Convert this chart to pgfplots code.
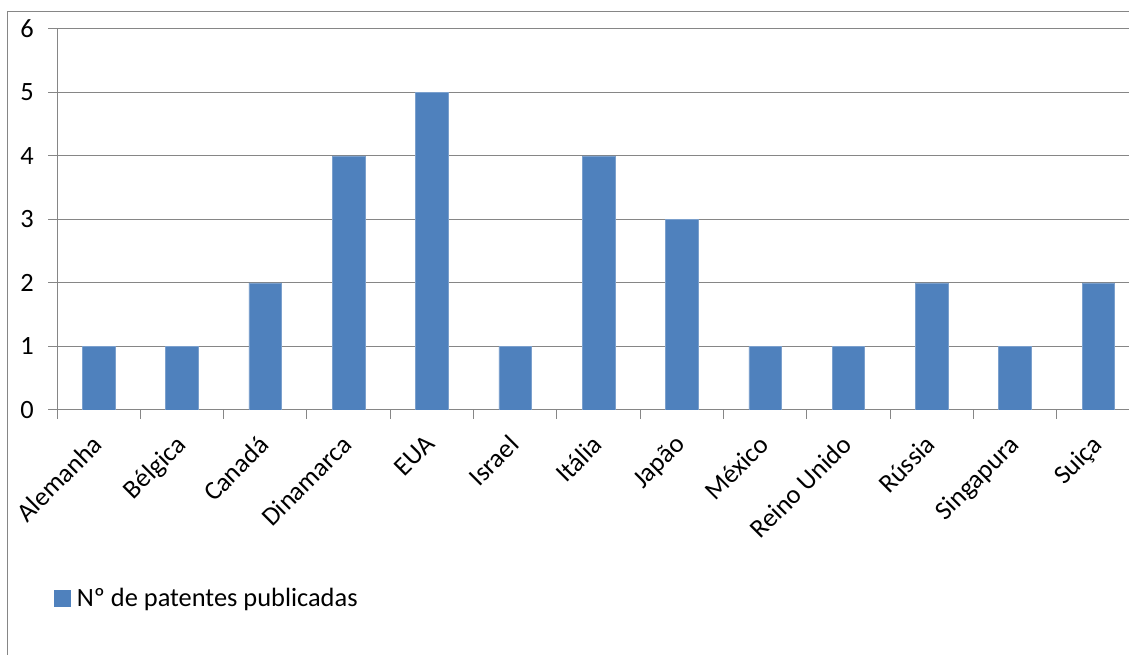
\documentclass[border=0pt]{standalone}
\usepackage{fontspec}
\setmainfont{Carlito}
\usepackage{pgfplots}
\pgfplotsset{compat=1.18}
\definecolor{barblue}{HTML}{4F81BD}
\definecolor{axisgray}{HTML}{868686}
\newcommand{\lblfont}{\fontsize{26.4}{31}\selectfont}
\begin{document}
\begin{tikzpicture}[x=1pt,y=1pt,font=\lblfont]
\path[use as bounding box, clip] (0,0) rectangle (1129,655);
% chart frame
\draw[axisgray, line width=1pt] (7.5,0) -- (7.5,643) -- (1129,643);
\begin{axis}[
  at={(57pt,245pt)}, anchor=south west,
  scale only axis, width=1083pt, height=381pt,
  xmin=-0.5, xmax=12.5, ymin=0, ymax=6,
  axis x line*=bottom, axis y line*=left,
  axis line style={axisgray, line width=1pt},
  ymajorgrids, grid style={axisgray, line width=1pt},
  ytick={0,1,2,3,4,5,6},
  xtick={-0.5,0.5,1.5,2.5,3.5,4.5,5.5,6.5,7.5,8.5,9.5,10.5,11.5,12.5},
  xticklabels={},
  extra x ticks={0,1,2,3,4,5,6,7,8,9,10,11,12},
  extra x tick labels={Alemanha,Bélgica,Canadá,Dinamarca,EUA,Israel,Itália,Japão,México,Reino Unido,Rússia,Singapura,Suiça},
  extra x tick style={major tick length=0pt, grid=none,
    xticklabel style={rotate=45, anchor=north east, inner sep=0pt, xshift=-22pt, yshift=-11pt}},
  tick align=outside, major tick length=9pt,
  tick style={axisgray, line width=1pt},
  tick label style={font=\lblfont, black},
  yticklabel style={inner sep=0pt, xshift=-14pt},
  /pgf/number format/assume math mode=true,
  legend style={at={(-0.0028,-0.4934)}, anchor=west, draw=none, fill=none,
    inner sep=0pt, font=\lblfont, legend cell align=left,
    /tikz/every odd column/.style={column sep=4pt}},
  legend image code/.code={\fill[barblue] (0pt,-8pt) rectangle (16pt,8pt);},
]
\addplot[ybar, bar width=32.6pt, fill=barblue, draw=barblue!75!white, line width=0.6pt]
  coordinates {(0,1) (1,1) (2,2) (3,4) (4,5) (5,1) (6,4) (7,3) (8,1) (9,1) (10,2) (11,1) (12,2)};
\addlegendentry{Nº de patentes publicadas}
\end{axis}
\end{tikzpicture}
\end{document}
